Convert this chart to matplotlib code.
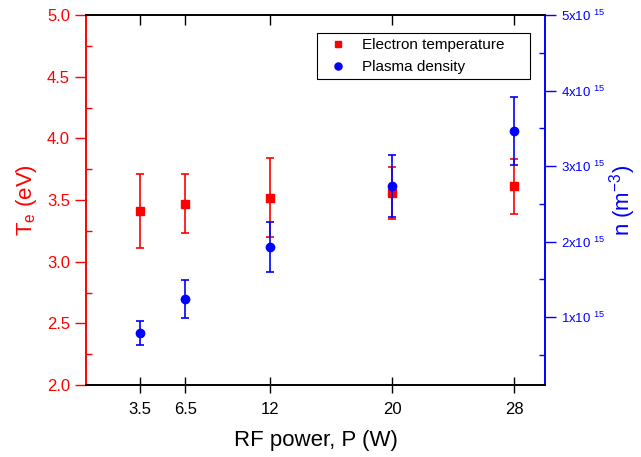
import matplotlib
matplotlib.use("Agg")
import matplotlib.pyplot as plt
from matplotlib.ticker import MultipleLocator, FuncFormatter

plt.rcParams['font.family'] = ['Liberation Sans', 'DejaVu Sans']
plt.rcParams['mathtext.default'] = 'regular'

# data
power = [3.5, 6.5, 12, 20, 28]
te = [3.41, 3.47, 3.52, 3.56, 3.61]
te_err = [0.30, 0.24, 0.32, 0.21, 0.22]
dens = [0.79e15, 1.24e15, 1.93e15, 2.73e15, 3.46e15]
dens_err = [0.16e15, 0.25e15, 0.33e15, 0.41e15, 0.45e15]

red = '#ff0000'
blue = '#0000ff'

fig = plt.figure(figsize=(6.41, 4.57), dpi=100)
ax = fig.add_axes([86/641, 1-385/457, (545-86)/641, (385-15)/457])
ax2 = ax.twinx()

# electron temperature on left axis
eb1 = ax.errorbar(power, te, yerr=te_err, fmt='s', color=red, ms=5.5,
                  elinewidth=1.2, capsize=3.2, capthick=1.2)
# plasma density on right axis
eb2 = ax2.errorbar(power, dens, yerr=dens_err, fmt='o', color=blue, ms=6,
                   elinewidth=1.2, capsize=3.2, capthick=1.2)

ax.set_xlim(0, 30)
ax.set_ylim(2.0, 5.0)
ax2.set_ylim(0.1e15, 5.0e15)

ax.set_xticks(power)
ax.set_xticklabels(['3.5', '6.5', '12', '20', '28'])
ax.tick_params(axis='x', direction='inout', length=11, width=1, labelsize=12, pad=7)

# top ticks pointing inward
ax2.xaxis.set_visible(True)
ax2.tick_params(axis='x', which='both', bottom=False, top=True, labelbottom=False,
                labeltop=False, direction='in', length=7, width=1)

ax.yaxis.set_major_locator(MultipleLocator(0.5))
ax.yaxis.set_minor_locator(MultipleLocator(0.25))
ax.yaxis.set_major_formatter(FuncFormatter(lambda v, p: f"{v:.1f}"))
ax.tick_params(axis='y', which='major', direction='out', length=8, width=1,
               colors=red, labelsize=12)
ax.tick_params(axis='y', which='minor', direction='in', length=4, width=1, colors=red)

ax2.yaxis.set_major_locator(MultipleLocator(1e15))
ax2.yaxis.set_minor_locator(MultipleLocator(0.5e15))
ax2.yaxis.set_major_formatter(FuncFormatter(lambda v, p: f"{v/1e15:.0f}x10 $^{{15}}$"))
ax2.tick_params(axis='y', which='major', direction='out', length=8, width=1,
                colors=blue, labelsize=9.5)
ax2.tick_params(axis='y', which='minor', direction='in', length=4, width=1, colors=blue)

for a in (ax, ax2):
    a.spines['left'].set_color(red)
    a.spines['right'].set_color(blue)
    for s in a.spines.values():
        s.set_linewidth(1.2)

ax.set_xlabel('RF power, P (W)', fontsize=16, labelpad=9)
ax.set_ylabel('T$_e$ (eV)', fontsize=16, color=red, labelpad=6)
ax2.set_ylabel('n (m$^{-3}$)', fontsize=16, color=blue, labelpad=1)

leg = ax2.legend([eb1[0], eb2[0]], ['Electron temperature', 'Plasma density'],
                 loc='upper left', bbox_to_anchor=(0.503, 0.827, 0.464, 0.124),
                 mode='expand', borderaxespad=0, fontsize=11,
                 fancybox=False, edgecolor='black', framealpha=1, markerscale=0.85,
                 handletextpad=0.6, borderpad=0.35, labelspacing=0.5)
leg.get_frame().set_linewidth(0.8)

fig.savefig('out.png', dpi=100)
